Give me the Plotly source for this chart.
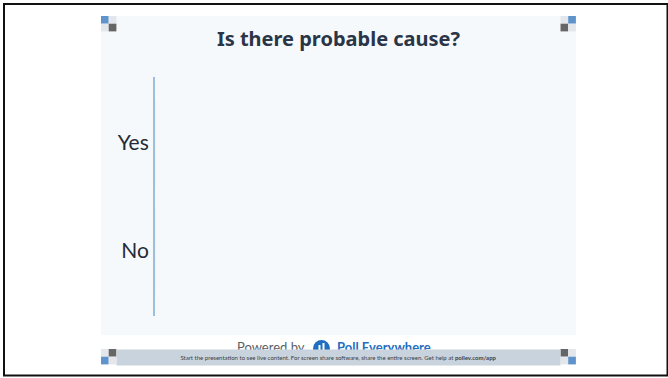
import plotly.graph_objects as go

# ---- data ----
categories = ["Yes", "No"]
responses = [0, 0]
title_text = "Is there probable cause?"
footer_text = ("Start the presentation to see live content. For screen share software, "
               "share the entire screen. Get help at <b>pollev.com/app</b>")

W, H = 668, 378
def px(x): return x / W
def py(y): return 1 - y / H

PANEL = "#f6f9fc"
BLUE_SQ = "#5e93cc"
DARK_SQ = "#666666"
LIGHT_SQ = "#e3e6ea"
BAR = "#c9d3de"
LOGO = "#1f6fc0"

fig = go.Figure(go.Bar(x=responses, y=categories, orientation="h",
                       marker_color="#3e79bd", hoverinfo="skip"))

shapes = []
def rect(x0, y0, x1, y1, color, line=None, width=0, fill=True):
    d = dict(type="rect", xref="paper", yref="paper",
             x0=px(x0), x1=px(x1), y0=py(y1), y1=py(y0),
             layer="below")
    if fill:
        d["fillcolor"] = color
        d["line"] = dict(width=0)
    else:
        d["line"] = dict(color=line, width=width)
    shapes.append(d)

# outer border
rect(4, 4, 667.5, 375.5, None, line="#111111", width=2, fill=False)
# panel
rect(101, 16, 576, 335, PANEL)

# corner squares
def quad(x, y, tl, tr, bl, br, s=7.7):
    rect(x, y, x + s, y + s, tl)
    rect(x + s, y, x + 2 * s, y + s, tr)
    rect(x, y + s, x + s, y + 2 * s, bl)
    rect(x + s, y + s, x + 2 * s, y + 2 * s, br)

quad(101, 16, BLUE_SQ, LIGHT_SQ, LIGHT_SQ, DARK_SQ)
quad(560.5, 16, LIGHT_SQ, BLUE_SQ, DARK_SQ, LIGHT_SQ)
quad(101, 349, LIGHT_SQ, DARK_SQ, BLUE_SQ, LIGHT_SQ)
quad(560.5, 349, DARK_SQ, LIGHT_SQ, LIGHT_SQ, BLUE_SQ)

# logo circle with white bars
shapes.append(dict(type="circle", xref="paper", yref="paper",
                   x0=px(313), x1=px(330), y0=py(357), y1=py(340),
                   fillcolor=LOGO, line=dict(width=0), layer="below"))
rect(318.5, 345, 320.5, 357, "white")
rect(322.5, 343, 324.5, 357, "white")

annotations = [
    dict(text="Powered by", xref="paper", yref="paper", x=px(307), y=py(347),
         xanchor="right", yanchor="middle", showarrow=False,
         font=dict(family="Lato", size=13, color="#5a5f66")),
    dict(text="<b>Poll Everywhere</b>", xref="paper", yref="paper", x=px(335), y=py(347),
         xanchor="left", yanchor="middle", showarrow=False,
         font=dict(family="Lato", size=13, color=LOGO)),
    # footer bar drawn last so it covers the bottom of the text above
    dict(text=footer_text, xref="paper", yref="paper",
         x=px((117 + 560.5) / 2), y=py(357),
         xanchor="center", yanchor="middle", showarrow=False,
         width=443, height=15, bgcolor=BAR, borderpad=0,
         font=dict(family="Lato", size=6, color="#3a3f45")),
]

fig.update_layout(
    width=W, height=H,
    margin=dict(l=0, r=0, t=0, b=0),
    paper_bgcolor="white",
    plot_bgcolor="rgba(0,0,0,0)",
    showlegend=False,
    shapes=shapes,
    annotations=annotations,
    title=dict(text=f"<b>{title_text}</b>", x=px(338.5), xanchor="center",
               xref="paper", yref="paper", y=py(39), yanchor="middle",
               font=dict(family="Noto Sans", size=20, color="#2a3647")),
    xaxis=dict(domain=[px(155), px(560)], range=[0, 1], visible=False,
               fixedrange=True),
    yaxis=dict(domain=[py(316), py(77)], categoryorder="array",
               categoryarray=["No", "Yes"], range=[-0.6, 1.61],
               showline=True, linecolor="#9ebfdc", linewidth=2,
               showgrid=False, zeroline=False, ticks="",
               tickfont=dict(family="Lato", size=21, color="#222b36"),
               fixedrange=True),
)

fig.write_html("out.html")
